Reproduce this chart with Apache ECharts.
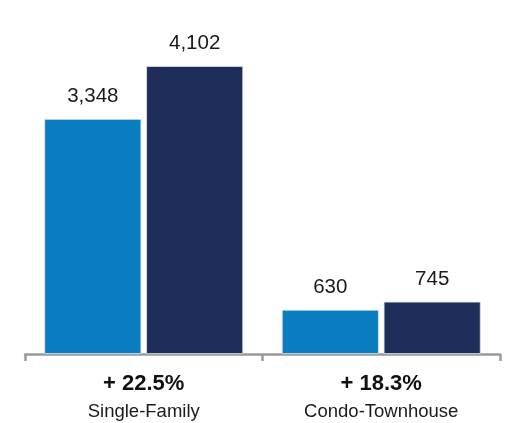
<!DOCTYPE html>
<html><head><meta charset="utf-8">
<script src="https://cdn.jsdelivr.net/npm/echarts@6/dist/echarts.min.js"></script>
<style>html,body{margin:0;padding:0;background:#fff}#c{width:505px;height:423px}</style>
</head><body><div id="c"></div>
<script>
const categories = ['Single-Family', 'Condo-Townhouse'];
const changes = ['+ 22.5%', '+ 18.3%'];
const prevYear = [3348, 630];
const currYear = [4102, 745];

const chart = echarts.init(document.getElementById('c'), null, {renderer: 'canvas'});
const labelStyle = {
  show: true, position: 'top', distance: 12,
  fontFamily: 'Liberation Sans, Arial, sans-serif', fontSize: 20.5, color: '#1a1a1a',
  formatter: p => p.value.toLocaleString('en-US')
};
chart.setOption({
  animation: false,
  grid: {left: 25, right: 5, top: 3, bottom: 69, containLabel: false},
  xAxis: {
    type: 'category', data: categories,
    axisLine: {lineStyle: {color: '#9a9a9a', width: 2.5}},
    axisTick: {show: true, length: 7, inside: false, lineStyle: {color: '#9a9a9a', width: 2.5}},
    axisLabel: {
      margin: 16,
      formatter: (v, i) => '{a|' + changes[i] + '}\n{b|' + v + '}',
      rich: {
        a: {fontFamily: 'Liberation Sans, Arial, sans-serif', fontSize: 22, fontWeight: 'bold', color: '#111', lineHeight: 28},
        b: {fontFamily: 'Liberation Sans, Arial, sans-serif', fontSize: 18.5, color: '#1a1a1a', lineHeight: 28}
      }
    }
  },
  yAxis: {type: 'value', min: 0, max: 5000, show: false, splitLine: {show: false}},
  series: [
    {type: 'bar', data: prevYear, barWidth: 97, barGap: '5%',
     itemStyle: {color: '#0a7dc1', borderColor: '#dfe3ea', borderWidth: 0.8}, label: labelStyle},
    {type: 'bar', data: currYear, barWidth: 97, barGap: '5%',
     itemStyle: {color: '#1f2d5a', borderColor: '#dfe3ea', borderWidth: 0.8}, label: labelStyle}
  ]
});
</script></body></html>
